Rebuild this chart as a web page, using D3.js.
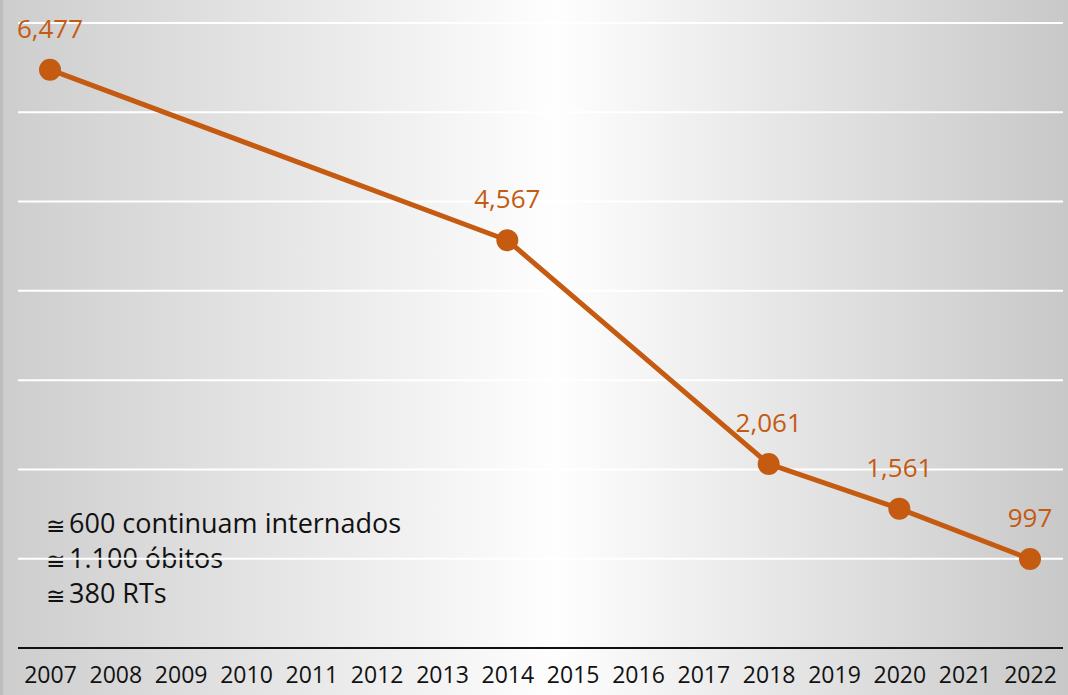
<!DOCTYPE html>
<html><head><meta charset="utf-8">
<script src="https://cdn.jsdelivr.net/npm/d3@7"></script>
<style>html,body{margin:0;padding:0;background:#fff;}svg{display:block;}</style>
</head><body>
<script>
const years = ["2007","2008","2009","2010","2011","2012","2013","2014","2015","2016","2017","2018","2019","2020","2021","2022"];
const pointYears = ["2007","2014","2018","2020","2022"];
const pointValues = [6477, 4567, 2061, 1561, 997];
const pointLabels = ["6,477","4,567","2,061","1,561","997"];
const gridValues = [1000,2000,3000,4000,5000,6000,7000];
const notes = ["600 continuam internados","1.100 óbitos","380 RTs"];

const W = 1068, H = 695;
const FONT = "Open Sans, Liberation Sans, Arial, sans-serif";
const svg = d3.select("body").append("svg").attr("width", W).attr("height", H);
const defs = svg.append("defs");
const g = defs.append("linearGradient").attr("id","bg").attr("x1","0").attr("x2","1").attr("y1","0").attr("y2","0");
g.append("stop").attr("offset","0").attr("stop-color","#cdcdcd");
g.append("stop").attr("offset","0.52").attr("stop-color","#fefefe");
g.append("stop").attr("offset","1").attr("stop-color","#c8c8c8");
svg.append("rect").attr("width",W).attr("height",H).attr("fill","url(#bg)");
svg.append("rect").attr("x",0).attr("y",0).attr("width",3).attr("height",H).attr("fill","#bdbdbd");

const x = d3.scalePoint().domain(years).range([50, 1030]);
const y = d3.scaleLinear().domain([0, 7000]).range([648, 23]);

// notes
const ng = svg.append("g").selectAll("g").data(notes).join("g")
  .attr("transform",(d,i)=>`translate(46,${533 + i*35})`);
ng.append("text").attr("x",0).attr("y",1)
  .attr("font-family","DejaVu Sans, sans-serif").attr("font-size",23).attr("fill","#111")
  .text("\u2245");
ng.append("text").attr("x",23)
  .attr("font-family",FONT).attr("font-size",27).attr("fill","#111")
  .text(d=>d);

// gridlines
svg.append("g").selectAll("line").data(gridValues).join("line")
  .attr("x1",18).attr("x2",1063).attr("y1",d=>y(d)).attr("y2",d=>y(d))
  .attr("stroke","#ffffff").attr("stroke-width",2);

// x axis
const xAxis = d3.axisBottom(x).tickSize(0).tickPadding(19);
const ax = svg.append("g").attr("transform",`translate(0,${y(0)})`).call(xAxis);
ax.select(".domain").remove();
ax.selectAll("text").attr("font-family",FONT).attr("font-size",23).attr("fill","#111");
svg.append("line").attr("x1",18).attr("x2",1063).attr("y1",y(0)).attr("y2",y(0)).attr("stroke","#111").attr("stroke-width",2);

const pts = pointYears.map((yr,i)=>({yr, v:pointValues[i], lab:pointLabels[i]}));
const color = "#c55a11";
svg.append("path").datum(pts)
  .attr("d", d3.line().x(d=>x(d.yr)).y(d=>y(d.v)))
  .attr("fill","none").attr("stroke",color).attr("stroke-width",5).attr("stroke-linejoin","round");
svg.append("g").selectAll("circle").data(pts).join("circle")
  .attr("cx",d=>x(d.yr)).attr("cy",d=>y(d.v)).attr("r",11).attr("fill",color);
svg.append("g").selectAll("text").data(pts).join("text")
  .attr("x",d=>x(d.yr)).attr("y",d=>y(d.v)-32).attr("text-anchor","middle")
  .attr("font-family",FONT).attr("font-size",26).attr("fill",color)
  .text(d=>d.lab);
</script>
</body></html>
